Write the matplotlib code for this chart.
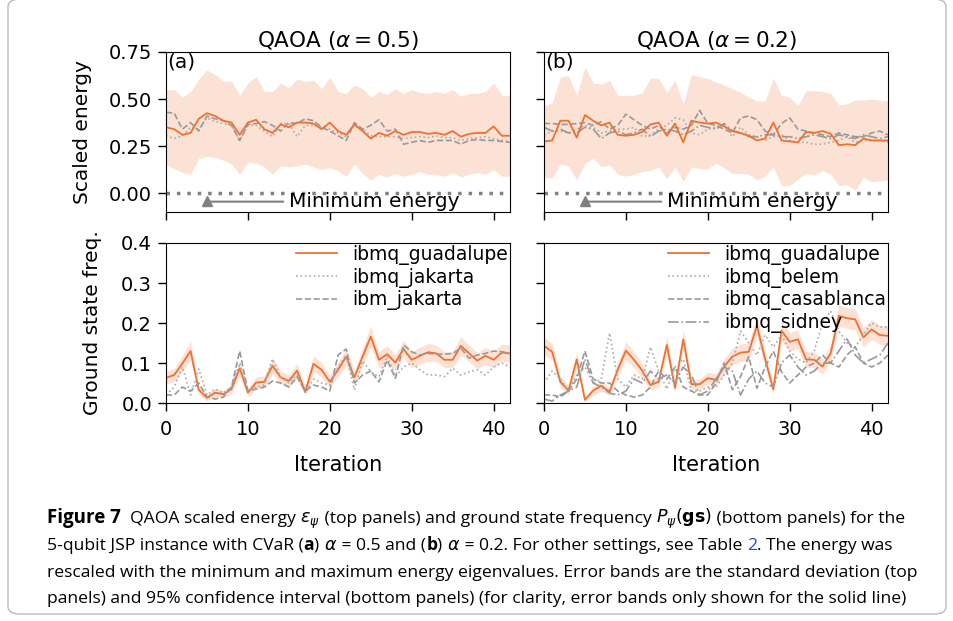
import numpy as np
import matplotlib
matplotlib.use('Agg')
import matplotlib.pyplot as plt
from matplotlib.patches import FancyBboxPatch

# iterations 0..42
iterations = np.arange(43)

# --- panel (a): alpha = 0.5 ---
energy_a_guadalupe = [0.35, 0.34, 0.31, 0.32, 0.395, 0.425, 0.41, 0.385, 0.375, 0.31, 0.375, 0.39, 0.34, 0.32,
                      0.365, 0.35, 0.375, 0.375, 0.37, 0.34, 0.375, 0.33, 0.31, 0.365, 0.33, 0.29, 0.32, 0.305,
                      0.33, 0.31, 0.325, 0.325, 0.315, 0.32, 0.31, 0.33, 0.30, 0.315, 0.32, 0.32, 0.355, 0.305, 0.305]
energy_a_std = [0.20, 0.21, 0.20, 0.22, 0.21, 0.23, 0.22, 0.21, 0.22, 0.21, 0.21, 0.23, 0.20, 0.22, 0.22, 0.21,
                0.23, 0.22, 0.23, 0.215, 0.24, 0.21, 0.22, 0.21, 0.225, 0.22, 0.22, 0.22, 0.225, 0.22, 0.225,
                0.21, 0.215, 0.22, 0.22, 0.22, 0.215, 0.215, 0.21, 0.22, 0.23, 0.215, 0.215]
energy_a_jakarta_q = [0.305, 0.29, 0.305, 0.35, 0.34, 0.40, 0.38, 0.37, 0.36, 0.28, 0.36, 0.36, 0.33, 0.30, 0.37,
                      0.37, 0.30, 0.36, 0.36, 0.35, 0.34, 0.32, 0.30, 0.36, 0.34, 0.305, 0.30, 0.30, 0.30, 0.29,
                      0.295, 0.30, 0.295, 0.305, 0.295, 0.295, 0.28, 0.29, 0.295, 0.30, 0.29, 0.28, 0.275]
energy_a_jakarta = [0.43, 0.425, 0.34, 0.375, 0.33, 0.41, 0.395, 0.385, 0.36, 0.28, 0.365, 0.37, 0.38, 0.36, 0.33,
                    0.375, 0.37, 0.395, 0.385, 0.35, 0.33, 0.305, 0.28, 0.375, 0.34, 0.36, 0.39, 0.33, 0.34, 0.26,
                    0.27, 0.28, 0.27, 0.28, 0.28, 0.28, 0.26, 0.28, 0.285, 0.28, 0.28, 0.275, 0.27]

gs_a_guadalupe = [0.063, 0.07, 0.099, 0.13, 0.033, 0.013, 0.026, 0.022, 0.035, 0.087, 0.026, 0.051, 0.053, 0.093,
                  0.064, 0.055, 0.081, 0.028, 0.098, 0.083, 0.053, 0.083, 0.116, 0.064, 0.116, 0.166, 0.108, 0.122,
                  0.101, 0.135, 0.108, 0.118, 0.127, 0.124, 0.108, 0.108, 0.143, 0.124, 0.106, 0.118, 0.108, 0.126, 0.124]
gs_a_ci = [0.016, 0.017, 0.02, 0.025, 0.012, 0.008, 0.01, 0.01, 0.012, 0.02, 0.01, 0.014, 0.015, 0.02, 0.016, 0.015,
           0.018, 0.01, 0.02, 0.018, 0.015, 0.018, 0.022, 0.016, 0.022, 0.026, 0.02, 0.022, 0.02, 0.022, 0.02, 0.021,
           0.022, 0.021, 0.02, 0.02, 0.023, 0.021, 0.02, 0.021, 0.02, 0.021, 0.021]
gs_a_jakarta_q = [0.02, 0.04, 0.09, 0.02, 0.085, 0.02, 0.035, 0.025, 0.04, 0.10, 0.03, 0.04, 0.045, 0.11, 0.065, 0.05,
                  0.07, 0.025, 0.06, 0.05, 0.045, 0.09, 0.12, 0.033, 0.105, 0.078, 0.066, 0.117, 0.066, 0.09, 0.10,
                  0.083, 0.07, 0.07, 0.066, 0.087, 0.07, 0.078, 0.083, 0.07, 0.09, 0.10, 0.09]
gs_a_jakarta = [0.02, 0.02, 0.04, 0.03, 0.05, 0.015, 0.01, 0.015, 0.04, 0.13, 0.03, 0.035, 0.04, 0.055, 0.05, 0.04,
                0.065, 0.03, 0.045, 0.04, 0.03, 0.12, 0.135, 0.05, 0.07, 0.08, 0.053, 0.107, 0.062, 0.145, 0.128,
                0.12, 0.124, 0.122, 0.122, 0.124, 0.137, 0.112, 0.12, 0.124, 0.13, 0.128, 0.124]

# --- panel (b): alpha = 0.2 ---
energy_b_guadalupe = [0.275, 0.28, 0.385, 0.385, 0.295, 0.415, 0.385, 0.36, 0.375, 0.31, 0.305, 0.31, 0.325, 0.365,
                      0.375, 0.305, 0.37, 0.27, 0.385, 0.375, 0.37, 0.375, 0.355, 0.33, 0.32, 0.305, 0.28, 0.29,
                      0.375, 0.28, 0.275, 0.27, 0.325, 0.32, 0.33, 0.315, 0.255, 0.26, 0.255, 0.29, 0.28, 0.28, 0.28]
energy_b_std = [0.19, 0.20, 0.23, 0.24, 0.225, 0.256, 0.20, 0.22, 0.225, 0.21, 0.215, 0.21, 0.21, 0.245, 0.235, 0.23,
                0.23, 0.205, 0.245, 0.245, 0.24, 0.215, 0.22, 0.225, 0.215, 0.205, 0.21, 0.20, 0.235, 0.24, 0.235,
                0.195, 0.22, 0.225, 0.21, 0.215, 0.215, 0.215, 0.24, 0.205, 0.22, 0.215, 0.21]
energy_b_belem = [0.31, 0.33, 0.33, 0.32, 0.34, 0.36, 0.35, 0.32, 0.33, 0.34, 0.34, 0.35, 0.30, 0.31, 0.34, 0.36, 0.40,
                  0.39, 0.32, 0.31, 0.34, 0.35, 0.36, 0.30, 0.35, 0.31, 0.30, 0.28, 0.30, 0.31, 0.28, 0.27, 0.27,
                  0.26, 0.26, 0.27, 0.28, 0.30, 0.27, 0.28, 0.28, 0.28, 0.27]
energy_b_casablanca = [0.37, 0.37, 0.365, 0.365, 0.37, 0.375, 0.36, 0.38, 0.34, 0.36, 0.42, 0.39, 0.36, 0.34, 0.36,
                       0.32, 0.35, 0.34, 0.36, 0.44, 0.37, 0.36, 0.34, 0.32, 0.40, 0.41, 0.39, 0.33, 0.31, 0.37, 0.40,
                       0.34, 0.33, 0.32, 0.31, 0.30, 0.32, 0.31, 0.30, 0.30, 0.32, 0.33, 0.31]
energy_b_sidney = [0.35, 0.33, 0.34, 0.32, 0.32, 0.35, 0.34, 0.29, 0.32, 0.33, 0.31, 0.32, 0.34, 0.30, 0.33, 0.34, 0.33,
                   0.31, 0.33, 0.36, 0.35, 0.34, 0.37, 0.33, 0.32, 0.30, 0.30, 0.31, 0.31, 0.30, 0.30, 0.29, 0.30,
                   0.31, 0.30, 0.29, 0.31, 0.30, 0.29, 0.31, 0.30, 0.29, 0.30]

gs_b_guadalupe = [0.143, 0.128, 0.053, 0.031, 0.109, 0.008, 0.031, 0.043, 0.028, 0.083, 0.131, 0.108, 0.081, 0.045,
                  0.053, 0.145, 0.038, 0.159, 0.047, 0.047, 0.062, 0.058, 0.091, 0.116, 0.126, 0.128, 0.193, 0.11,
                  0.034, 0.181, 0.153, 0.159, 0.109, 0.108, 0.091, 0.124, 0.218, 0.212, 0.209, 0.164, 0.184, 0.17, 0.168]
gs_b_ci = [0.022, 0.021, 0.014, 0.011, 0.02, 0.006, 0.011, 0.013, 0.01, 0.018, 0.022, 0.02, 0.018, 0.013, 0.014,
           0.023, 0.012, 0.024, 0.013, 0.013, 0.015, 0.015, 0.019, 0.021, 0.022, 0.022, 0.026, 0.021, 0.011, 0.025,
           0.023, 0.024, 0.02, 0.02, 0.019, 0.021, 0.027, 0.026, 0.026, 0.024, 0.025, 0.024, 0.024]
gs_b_belem = [0.05, 0.08, 0.06, 0.03, 0.07, 0.09, 0.05, 0.06, 0.175, 0.06, 0.04, 0.07, 0.06, 0.14, 0.08, 0.035, 0.09,
              0.11, 0.03, 0.03, 0.04, 0.04, 0.07, 0.10, 0.18, 0.15, 0.12, 0.17, 0.14, 0.17, 0.13, 0.11, 0.10, 0.13,
              0.20, 0.23, 0.18, 0.15, 0.14, 0.17, 0.20, 0.19, 0.19]
gs_b_casablanca = [0.02, 0.02, 0.015, 0.03, 0.06, 0.13, 0.06, 0.05, 0.05, 0.03, 0.02, 0.015, 0.02, 0.04, 0.08, 0.06,
                   0.09, 0.04, 0.03, 0.02, 0.02, 0.05, 0.10, 0.033, 0.066, 0.116, 0.037, 0.09, 0.13, 0.078, 0.05,
                   0.07, 0.09, 0.10, 0.12, 0.10, 0.09, 0.12, 0.14, 0.10, 0.09, 0.10, 0.12]
gs_b_sidney = [0.01, 0.005, 0.02, 0.03, 0.04, 0.11, 0.05, 0.04, 0.025, 0.02, 0.03, 0.06, 0.05, 0.08, 0.06, 0.07, 0.05,
               0.09, 0.07, 0.02, 0.03, 0.06, 0.09, 0.08, 0.02, 0.06, 0.08, 0.05, 0.04, 0.10, 0.12, 0.09, 0.07, 0.08,
               0.10, 0.10, 0.13, 0.16, 0.12, 0.10, 0.11, 0.12, 0.15]

ORANGE = '#F07030'
GRAY = '#999999'
styles = {'dotted': dict(color='#aaaaaa', ls=':', lw=1.2),
          'dashed': dict(color=GRAY, ls='--', lw=1.2),
          'dashdot': dict(color=GRAY, ls='-.', lw=1.2)}

plt.rcParams['font.family'] = 'DejaVu Sans'
fig = plt.figure(figsize=(9.54, 6.21), dpi=100)

w, h = 0.3606, 0.2577
ax_ta = fig.add_axes([0.174, 0.6586, w, h])
ax_tb = fig.add_axes([0.5702, 0.6586, w, h])
ax_ba = fig.add_axes([0.174, 0.351, w, h])
ax_bb = fig.add_axes([0.5702, 0.351, w, h])


def energy_panel(ax, mean, std, others, title, tag):
    mean = np.array(mean)
    std = np.array(std)
    ax.fill_between(iterations, mean - std, mean + std, color=ORANGE, alpha=0.2, lw=0)
    for vals, st in others:
        ax.plot(iterations, vals, **styles[st])
    ax.plot(iterations, mean, color=ORANGE, lw=1.3)
    ax.axhline(0, color='gray', ls=(0, (1, 2)), lw=2.5)
    ax.plot([5], [-0.04], marker='^', color='gray', ms=7)
    ax.annotate('Minimum energy', xy=(5, -0.045), xytext=(15, -0.045), fontsize=14.5, va='center',
                arrowprops=dict(arrowstyle='-', color='gray', lw=1.5, shrinkA=2, shrinkB=0))
    ax.set_xlim(0, 42)
    ax.set_ylim(-0.1, 0.75)
    ax.set_yticks([0, 0.25, 0.5, 0.75])
    ax.set_xticks([0, 10, 20, 30, 40])
    ax.set_xticklabels([])
    ax.set_title(title, fontsize=15.5, pad=3)
    ax.text(0.005, 0.995, tag, transform=ax.transAxes, va='top', ha='left', fontsize=14.5)


def gs_panel(ax, mean, ci, others, labels):
    mean = np.array(mean)
    ci = np.array(ci)
    ax.fill_between(iterations, mean - ci, mean + ci, color=ORANGE, alpha=0.2, lw=0)
    ax.plot(iterations, mean, color=ORANGE, lw=1.3, label=labels[0])
    for (vals, st), lab in zip(others, labels[1:]):
        ax.plot(iterations, vals, label=lab, **styles[st])
    ax.set_xlim(0, 42)
    ax.set_ylim(0, 0.4)
    ax.set_yticks([0, 0.1, 0.2, 0.3, 0.4])
    ax.set_xticks([0, 10, 20, 30, 40])
    ax.set_xlabel('Iteration', fontsize=15, labelpad=12)
    ax.legend(loc='upper right', frameon=False, fontsize=13.5, borderaxespad=0.0,
              handlelength=2.2, labelspacing=0.15, borderpad=0.1)


energy_panel(ax_ta, energy_a_guadalupe, energy_a_std,
             [(energy_a_jakarta_q, 'dotted'), (energy_a_jakarta, 'dashed')],
             r'QAOA ($\alpha = 0.5$)', '(a)')
energy_panel(ax_tb, energy_b_guadalupe, energy_b_std,
             [(energy_b_belem, 'dotted'), (energy_b_casablanca, 'dashed'), (energy_b_sidney, 'dashdot')],
             r'QAOA ($\alpha = 0.2$)', '(b)')
gs_panel(ax_ba, gs_a_guadalupe, gs_a_ci,
         [(gs_a_jakarta_q, 'dotted'), (gs_a_jakarta, 'dashed')],
         ['ibmq_guadalupe', 'ibmq_jakarta', 'ibm_jakarta'])
gs_panel(ax_bb, gs_b_guadalupe, gs_b_ci,
         [(gs_b_belem, 'dotted'), (gs_b_casablanca, 'dashed'), (gs_b_sidney, 'dashdot')],
         ['ibmq_guadalupe', 'ibmq_belem', 'ibmq_casablanca', 'ibmq_sidney'])

for ax in (ax_ta, ax_tb, ax_ba, ax_bb):
    ax.tick_params(labelsize=14, length=6, width=1, pad=4)
    ax.tick_params(axis='x', pad=6)
for ax in (ax_tb, ax_bb):
    ax.set_yticklabels([])
ax_ta.set_ylabel('Scaled energy', fontsize=14.5)
ax_ba.set_ylabel('Ground state freq.', fontsize=14.5)
ax_ta.yaxis.set_label_coords(-0.215, 0.5)
ax_ba.yaxis.set_label_coords(-0.185, 0.5)

# caption box
fig.patches.append(FancyBboxPatch((8 / 954, 7 / 621), 938 / 954, 0.99, boxstyle='round,pad=0,rounding_size=0.012',
                                  transform=fig.transFigure, fill=False, ec='#bbbbbb', lw=1, clip_on=False))

renderer = fig.canvas.get_renderer()
cap_font = dict(family='Open Sans', fontsize=12.6)


def caption_line(pieces, y):
    x = 47 / 954
    for s, kw in pieces:
        t = fig.text(x, 1 - y / 621, s, va='baseline', ha='left', **{**cap_font, **kw})
        x = t.get_window_extent(renderer).x1 / fig.bbox.width


caption_line([('Figure 7', dict(weight='bold', fontsize=13.5)),
              ('  QAOA scaled energy ', {}), (r'$\epsilon_\psi$', {}),
              (' (top panels) and ground state frequency ', {}), (r'$P_\psi(\mathbf{gs})$', {}),
              (' (bottom panels) for the', {})], 523)
caption_line([('5-qubit JSP instance with CVaR (', {}), ('a', dict(weight='bold')), (') ', {}),
              (r'$\alpha$', {}), (' = 0.5 and (', {}), ('b', dict(weight='bold')), (') ', {}),
              (r'$\alpha$', {}), (' = 0.2. For other settings, see Table ', {}),
              ('2', dict(color='#1f4fd0')), ('. The energy was', {})], 550)
caption_line([('rescaled with the minimum and maximum energy eigenvalues. Error bands are the standard deviation (top', {})], 577)
caption_line([('panels) and 95% confidence interval (bottom panels) (for clarity, error bands only shown for the solid line)', {})], 603)

fig.savefig('out.png', dpi=100)
